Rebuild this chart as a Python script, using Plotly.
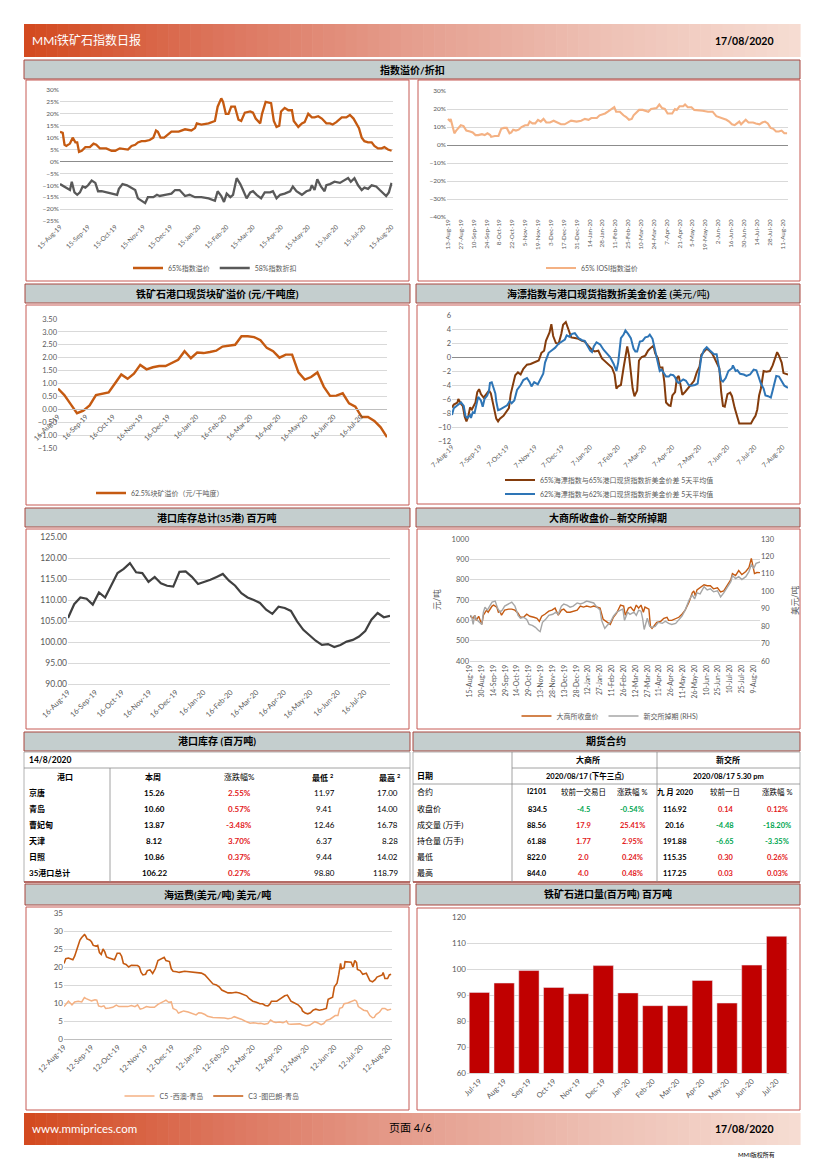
import pandas as pd
import plotly.graph_objects as go

W, H = 827, 1170
OFF = 8  # page body margin of the browser
def X(p): return (p - OFF) / W
def Y(p): return 1 - (p - OFF) / H

LAT = "Lato, Noto Sans CJK SC, sans-serif"
TICK = "#595959"
GRID = "#D9D9D9"

def on(base, days):
    b = pd.Timestamp(base)
    return [b + pd.Timedelta(days=int(d)) for d in days]

# ---------------- DATA ----------------
# Chart 1: 65% premium / 58% discount (days from 2019-08-15), %
p65_days = [0,3,5,7,11,14,17,19,21,24,28,33,37,40,44,51,57,61,66,72,75,79,83,86,90,94,99,103,106,108,111,115,118,123,131,138,145,149,151,156,164,171,174,178,180,183,186,189,193,197,200,204,210,213,216,221,223,227,233,236,239,242,244,248,252,256,258,263,267,270,274,278,281,285,289,294,298,301,305,311,316,320,324,327,330,333,336,340,344,347,351,355,358,362,366]
p65_vals = [12.5,12,7,6.5,7.5,10,8,8,4,4.5,6,6,7.5,7,5.5,5.5,4.5,4.5,5.5,5,5,6.5,7,8,8.5,8.5,9,10,13,12.5,10,10,11,12.5,12.5,13.5,13,14,16,15.5,16,17,23,26.5,25,20,20,23,23,17.5,17,20.5,21,20.5,18,16,20,25,24.5,17,14.5,15,21,22.5,21.5,21.5,17,14.5,16,16.5,20,18.5,18.5,19,18,16,16,15.5,16.5,18.5,18.5,19.5,18,16,14,10,8.5,8,8,6.5,5.5,5.5,6,5,4.5]
m58_days = [0,4,7,11,13,16,19,22,25,28,31,35,39,42,46,53,59,63,65,69,74,78,83,86,91,94,97,103,107,110,116,123,127,132,138,143,149,156,164,171,174,178,181,184,188,191,195,199,202,206,210,213,217,222,226,232,235,239,243,248,254,257,261,267,272,276,278,281,284,288,292,294,298,303,309,314,318,321,325,329,333,336,340,344,349,353,357,360,363,366]
m58_vals = [-9.5,-10.5,-11,-12,-8.5,-13,-14,-13,-10.5,-11,-10,-8,-9,-12.5,-12.5,-13,-13.5,-14,-11.5,-9.5,-10,-11,-12,-15.5,-17,-17.5,-15,-15,-14,-14.5,-14,-13.5,-12,-12,-14.5,-14,-15,-15,-15.5,-16.5,-12.5,-14.5,-17,-13.5,-15,-14,-7,-9.5,-12,-15.5,-13,-12.5,-14,-15.5,-13,-13,-12.5,-15.5,-14,-13.5,-12.5,-10.5,-12.5,-14,-12.5,-12,-10,-12,-7.5,-10.5,-12.5,-10,-9.5,-8.5,-9,-8,-7,-8.5,-7,-10,-12,-11,-11.5,-10,-10.5,-12,-13.5,-14.5,-13,-9]

# Chart 2: 65% IOSI premium (days from 2019-08-13), %
iosi_days = [0,2,3,5,7,9,12,14,17,20,24,27,30,33,37,40,43,46,47,51,55,58,61,64,67,69,71,74,77,80,84,87,89,92,95,98,101,104,107,111,115,119,123,127,130,134,140,145,149,153,156,162,165,171,174,178,181,183,187,191,194,197,200,202,205,208,212,216,218,221,227,230,233,236,239,244,247,249,252,256,258,261,265,268,273,277,283,288,292,295,299,303,306,309,312,315,317,319,322,324,327,332,335,339,342,345,348,351,354,357,360,363,366,369]
iosi_vals = [14.5,13.5,14.5,10,6.5,8,9.5,11,10.5,8,7.5,7,5.5,5.5,6,5.5,6.5,5.5,4.5,5,5,9,9.5,9.5,6.5,7,8.5,8,8.5,10,11,11,13,12,12,14,13,14.5,12.5,12.5,13.5,12.5,11.5,11.5,12.5,13.5,13,13.5,14.5,14,15,15,16.5,17.5,18.5,20,21,18.5,18.5,16.5,15.5,14,14.5,16.5,18,19.5,19.5,19,18.5,20,20.5,22.5,20.5,20,17.5,17.5,20,19.5,21.5,21.5,22.5,21,21,19.5,19,19,18.5,18.5,16,15.5,15,14,13,11.5,11,12,13,11.5,13,14,12.5,12.5,12,11.5,12.5,13,12,9.5,9,7.5,7.5,8,6.5,6.5]

# Weekly dates (Fridays) 16-Aug-19 .. 14-Aug-20
week_dates = pd.date_range("2019-08-16", "2020-08-14", freq="7D")
# Chart 3: 62.5% lump premium (元/干吨度)
lump_vals = [0.80,0.55,0.20,-0.15,-0.05,0.15,0.55,0.60,0.65,1.00,1.35,1.18,1.38,1.72,1.55,1.63,1.68,1.68,1.80,1.92,2.25,1.98,2.20,2.18,2.22,2.27,2.43,2.46,2.50,2.83,2.83,2.80,2.68,2.38,2.25,2.00,2.12,2.12,1.43,1.15,1.25,1.43,0.88,0.52,0.53,0.62,0.23,0.10,-0.30,-0.30,-0.45,-0.70,-1.08]
# Chart 5: 35-port stocks (百万吨)
stock_vals = [105.7,109.0,110.6,110.3,108.9,111.8,110.6,113.6,116.4,117.4,118.79,116.6,116.4,114.3,115.5,114.0,113.4,113.2,116.7,116.8,115.5,113.8,114.3,114.8,115.5,116.2,114.6,113.4,111.6,110.6,110.0,109.3,107.7,106.7,108.4,108.1,107.4,104.9,102.9,101.5,100.3,99.3,99.5,98.80,99.3,100.1,100.5,101.3,102.6,105.3,106.9,105.9,106.22]

# Chart 4: seaborne vs port spread, 5-day avg (days from 2019-08-07), USD/t
sp65_days = [0,2,6,7,10,12,14,16,18,20,22,24,26,28,30,32,35,38,41,43,46,49,51,53,57,60,63,65,67,70,73,76,79,83,87,90,93,96,99,102,104,108,110,112,115,118,121,123,126,129,132,136,140,144,147,151,155,158,162,166,170,173,177,180,182,184,187,190,192,194,196,198,200,202,205,207,210,214,217,220,223,225,228,230,233,235,237,240,242,244,247,249,251,253,255,258,262,265,268,271,274,276,279,282,285,288,290,293,296,298,300,302,305,308,310,313,315,318,321,324,328,331,334,336,338,340,342,345,348,352,355,358,360,362,365,367,372]
sp65_vals = [-7.2,-6.8,-6.5,-6.0,-6.7,-7.0,-8.5,-9.2,-8.5,-7.2,-7.5,-7.0,-6.5,-5.0,-4.6,-5.3,-5.8,-5.3,-4.8,-5.2,-6.8,-8.8,-9.2,-8.8,-8.4,-7.8,-7.3,-5.3,-4.3,-2.6,-2.2,-2.5,-1.7,-1.1,-1.0,-0.8,-0.6,-0.5,0.6,0.9,2.3,3.5,4.7,3.0,2.0,1.9,3.3,4.6,5.0,4.0,2.8,2.7,2.6,2.3,2.2,1.6,1.0,0.8,0.9,-0.2,-0.7,-1.1,-1.5,-2.5,-4.5,-4.2,-4.0,-1.5,0.2,1.5,0.2,-2.0,-4.5,-5.6,-4.8,-0.5,0.0,0.2,0.9,1.3,1.6,0.5,-0.2,-1.5,-1.5,-3.5,-6.5,-6.9,-7.0,-5.5,-5.0,-3.0,-2.7,-4.0,-5.4,-5.0,-4.4,-3.8,-3.4,-2.2,-1.4,0.3,0.8,1.2,0.9,0.5,0.0,-0.8,-1.6,-5.0,-7.0,-7.1,-5.3,-5.1,-5.6,-7.3,-8.2,-9.5,-9.5,-9.5,-9.5,-9.5,-8.8,-8.4,-7.5,-5.5,-4.5,-2.0,-2.1,-2.0,-1.2,0.1,0.7,0.2,-0.8,-2.3,-2.5]
sp62_days = [0,2,5,7,10,13,15,17,20,21,23,25,27,29,32,34,36,39,41,42,44,46,48,49,51,53,57,61,64,66,69,72,76,79,83,86,88,91,95,98,101,103,107,111,114,118,122,125,127,130,133,136,140,144,147,150,153,155,157,160,164,168,171,175,179,182,184,187,190,192,195,198,201,203,205,208,211,214,217,219,222,225,227,230,232,234,237,240,242,245,247,249,251,254,256,259,262,265,269,272,274,276,279,282,285,288,290,293,296,298,300,303,306,310,311,314,316,319,323,326,330,334,337,339,342,345,347,350,353,355,358,359,362,365,368,372]
sp62_vals = [-8.3,-7.3,-7.0,-6.8,-6.5,-7.0,-8.5,-8.7,-8.3,-8.7,-7.9,-8.0,-7.0,-5.7,-6.2,-7.1,-6.0,-5.5,-4.8,-3.7,-3.6,-4.6,-5.2,-6.3,-7.6,-7.5,-7.2,-6.9,-6.3,-6.6,-6.2,-4.7,-4.0,-3.3,-3.0,-3.6,-4.2,-3.6,-3.9,-3.2,-2.4,-0.8,0.6,1.0,1.3,1.9,2.2,2.5,3.1,2.9,3.3,3.4,2.7,2.4,2.3,1.5,0.9,0.7,1.5,2.1,1.8,1.0,0.6,0.0,-1.0,-2.0,-0.8,2.7,3.2,3.8,3.3,2.7,1.2,0.8,0.8,2.2,2.3,2.8,2.9,3.2,2.6,0.8,0.1,-2.0,-1.8,-2.2,-2.8,-2.8,-2.5,-2.6,-2.9,-3.5,-3.7,-3.4,-3.2,-3.4,-4.0,-4.1,-4.0,-3.8,-2.0,0.0,1.0,1.4,1.0,0.6,0.4,0.4,-1.5,-3.3,-3.5,-3.0,-2.0,-1.6,-1.2,-2.0,-1.9,-2.4,-2.5,-2.7,-2.5,-1.8,-1.9,-2.6,-3.8,-4.5,-5.5,-5.6,-5.8,-4.8,-3.5,-2.7,-2.8,-3.5,-4.1,-4.4]

# Chart 6: DCE close (元/吨) and SGX swap (USD/t, RHS), days from 2019-08-15
dce_days = [0,2,4,6,8,11,13,15,17,19,21,23,25,28,30,32,34,36,38,40,42,44,49,53,57,61,64,68,72,76,81,85,88,91,95,100,104,108,112,116,119,123,127,131,136,140,144,148,153,157,161,165,169,174,178,182,186,191,195,197,201,204,208,211,214,217,220,222,227,229,231,234,237,242,246,250,252,256,261,265,269,273,278,282,284,286,288,292,297,301,305,309,314,318,322,326,331,333,337,341,345,350,354,357,359,361,364,369]
dce_vals = [620,615,610,625,600,620,595,580,625,640,650,640,655,670,675,670,665,640,645,625,640,650,655,655,650,635,615,615,630,620,615,610,595,620,630,645,650,660,625,650,655,640,640,645,650,670,665,670,665,670,665,660,605,590,580,615,635,675,670,625,660,665,645,675,660,675,640,665,655,570,560,575,590,595,610,615,600,600,610,615,630,650,690,735,745,720,750,760,775,770,770,755,760,740,745,770,800,830,820,845,825,840,860,905,870,830,835,834.5]
sgx_days = [0,2,4,6,8,13,15,17,19,22,25,28,32,35,38,41,44,49,53,57,61,64,68,72,75,79,83,87,89,92,96,100,105,109,112,116,119,123,127,131,136,140,144,148,153,157,161,165,167,171,174,178,182,186,191,194,196,200,203,208,211,214,217,219,221,225,228,231,235,239,244,248,252,256,261,265,269,273,278,282,285,288,292,297,301,305,309,314,318,322,326,331,333,337,341,345,350,354,357,360,363,367,369]
sgx_vals = [86.2,85.7,81.0,86.2,83.9,82.2,81.0,88.0,90.9,89.2,91.5,93.8,94.4,90.3,88.0,89.2,91.5,92.7,93.8,91.5,86.2,84.5,85.1,83.9,81.0,80.4,79.3,77.5,76.9,82.2,83.9,86.2,86.8,88.0,86.8,91.5,92.7,92.1,90.9,91.5,93.3,92.7,93.3,94.4,93.8,93.3,90.9,89.2,83.3,78.7,80.4,82.2,85.7,88.0,89.2,89.8,83.3,88.0,86.8,88.0,86.2,89.2,88.6,84.5,78.1,84.5,79.9,79.3,79.9,82.2,81.6,82.8,81.6,81.0,81.6,83.9,85.7,89.2,95.0,97.9,95.6,99.1,98.5,102.6,100.8,101.4,99.7,100.3,96.8,99.1,102.0,105.5,109.0,107.3,108.4,106.7,108.4,111.3,115.4,113.1,116.0,116.6,116.92]

# Chart 7: freight (USD/t), days from 2019-08-12
c3_days = [0,2,5,8,10,12,14,16,18,20,23,24,26,29,31,33,36,38,40,42,44,46,48,51,55,57,60,63,65,67,70,73,76,80,83,85,87,89,92,94,97,100,103,106,109,113,115,119,121,123,127,130,136,144,151,155,159,162,164,168,172,175,178,181,185,189,194,198,202,206,209,213,217,221,224,227,230,232,234,238,240,243,246,249,252,254,256,260,264,268,269,272,275,278,281,284,288,292,296,298,301,303,305,308,310,312,313,316,317,320,324,326,328,330,331,334,337,341,345,348,351,353,356,359,360,362,365,367,369]
c3_vals = [21.0,22.3,22.5,22.2,22.0,23.0,24.5,26.0,27.5,28.2,29.0,28.8,27.8,27.5,27.0,26.0,25.8,26.0,24.0,23.5,25.0,24.2,22.8,22.5,22.2,22.0,23.8,23.8,23.0,21.0,20.7,20.0,20.5,20.5,20.4,20.0,18.5,17.8,18.0,19.0,19.2,18.2,19.5,21.8,22.2,22.7,21.8,21.5,19.5,18.8,18.7,18.5,18.8,18.6,18.3,18.3,17.8,17.0,16.2,15.3,15.0,14.5,13.6,13.2,12.8,12.8,13.0,12.8,12.5,12.0,11.2,10.5,10.2,9.8,9.8,9.3,9.2,9.6,10.5,10.6,10.5,11.0,11.5,12.0,12.2,11.5,10.5,10.0,9.5,8.5,7.8,7.2,7.0,7.3,8.0,8.3,8.0,8.2,8.5,11.0,11.5,11.6,14.5,15.5,18.0,21.0,19.5,19.8,21.5,21.5,21.3,20.0,21.8,21.2,19.3,19.0,18.0,18.3,16.2,15.9,16.5,17.2,17.4,17.8,18.5,16.8,16.8,17.8,18.0]
c5_days = [0,3,5,7,9,12,16,20,23,25,28,31,35,37,39,42,45,47,51,55,59,62,67,72,76,80,83,86,89,93,97,102,106,110,113,115,118,121,123,127,129,132,135,140,144,147,149,152,155,159,162,168,174,181,185,189,192,196,200,204,207,210,214,219,222,226,230,233,236,239,243,247,251,253,256,260,266,269,273,277,280,283,286,290,293,296,300,303,306,309,311,314,316,320,324,328,330,332,335,338,342,345,348,350,352,356,359,362,365,369]
c5_vals = [9.0,10.0,10.5,10.0,9.5,10.3,10.5,10.3,11.5,11.2,11.0,10.6,10.9,10.8,9.2,9.0,9.2,8.5,8.6,8.8,9.4,9.0,9.0,9.0,9.3,9.0,9.5,8.3,8.5,9.0,8.8,8.8,9.6,10.0,10.5,10.8,10.2,10.3,8.5,8.0,7.2,7.5,7.8,7.5,7.2,7.0,6.7,7.3,7.2,6.8,6.3,6.0,6.0,5.8,5.6,5.8,6.2,5.9,5.5,5.0,4.8,4.4,4.5,4.3,4.4,4.1,4.3,5.3,4.8,4.6,4.7,4.5,5.0,4.2,4.1,4.1,4.2,3.9,3.7,3.8,4.2,4.8,4.5,4.0,4.3,5.2,5.5,6.0,6.5,6.5,8.5,8.8,9.8,10.0,10.3,10.8,10.5,9.0,8.5,8.0,7.8,6.5,5.9,6.0,6.8,7.5,8.5,8.5,8.0,8.3]

# Chart 8: monthly imports (百万吨)
imp_months = ["Jul-19","Aug-19","Sep-19","Oct-19","Nov-19","Dec-19","Jan-20","Feb-20","Mar-20","Apr-20","May-20","Jun-20","Jul-20"]
imp_vals = [91.0,94.6,99.4,92.9,90.5,101.3,90.8,85.9,85.9,95.6,86.9,101.5,112.6]

# Tables
port_names = ["京唐","青岛","曹妃甸","天津","日照","35港口总计"]
port_week = ["15.26","10.60","13.87","8.12","10.86","106.22"]
port_chg = ["2.55%","0.57%","-3.48%","3.70%","0.37%","0.27%"]
port_low = ["11.97","9.41","12.46","6.37","9.44","98.80"]
port_high = ["17.00","14.00","16.78","8.28","14.02","118.79"]

fut_rows = ["收盘价","成交量 (万手)","持仓量 (万手)","最低","最高"]
dce_val = ["834.5","88.56","61.88","822.0","844.0"]
dce_chg = ["-4.5","17.9","1.77","2.0","4.0"]
dce_pct = ["-0.54%","25.41%","2.95%","0.24%","0.48%"]
sgx_val = ["116.92","20.16","191.88","115.35","117.25"]
sgx_chg = ["0.14","-4.48","-6.65","0.30","0.03"]
sgx_pct = ["0.12%","-18.20%","-3.35%","0.26%","0.03%"]

for a, b in [(p65_days,p65_vals),(m58_days,m58_vals),(iosi_days,iosi_vals),(sp65_days,sp65_vals),
             (sp62_days,sp62_vals),(dce_days,dce_vals),(sgx_days,sgx_vals),(c3_days,c3_vals),(c5_days,c5_vals),
             (week_dates,lump_vals),(week_dates,stock_vals)]:
    assert len(a) == len(b), (len(a), len(b))

# ---------------- FIGURE ----------------
ORANGE = "#C55A11"
LIGHT = "#F4B183"
BROWN = "#843C0C"
BLUE = "#2E75B6"
DARK = "#404040"
RED = "#E3201B"
GREEN = "#00A650"

fig = go.Figure()

def line(x, y, xa, ya, color, width, name=None, legend=None, show=False):
    fig.add_trace(go.Scatter(x=x, y=y, mode="lines", xaxis=xa, yaxis=ya, name=name,
                             line=dict(color=color, width=width), showlegend=show,
                             legend=legend, hoverinfo="skip"))

line(on("2019-08-15", p65_days), p65_vals, "x", "y", ORANGE, 2.3, "65%指数溢价", "legend", True)
line(on("2019-08-15", m58_days), m58_vals, "x", "y", "#595959", 2.3, "58%指数折扣", "legend", True)
line(on("2019-08-13", iosi_days), iosi_vals, "x2", "y2", LIGHT, 2.1, "65% IOSI指数溢价", "legend2", True)
line(week_dates, lump_vals, "x3", "y3", ORANGE, 2.4, "62.5%块矿溢价（元/干吨度）", "legend3", True)
line(on("2019-08-07", sp65_days), sp65_vals, "x4", "y4", BROWN, 2.0, "65%海漂指数与65%港口现货指数折美金价差 5天平均值", "legend4", True)
line(on("2019-08-07", sp62_days), sp62_vals, "x4", "y4", BLUE, 2.0, "62%海漂指数与62%港口现货指数折美金价差 5天平均值", "legend7", True)
line(week_dates, stock_vals, "x5", "y5", DARK, 2.2)
line(on("2019-08-15", dce_days), dce_vals, "x6", "y6", ORANGE, 1.4, "大商所收盘价", "legend5", True)
line(on("2019-08-15", sgx_days), sgx_vals, "x6", "y7", "#A6A6A6", 1.4, "新交所掉期 (RHS)", "legend5", True)
line(on("2019-08-12", c5_days), c5_vals, "x8", "y8", LIGHT, 1.5, "C5 -西澳-青岛", "legend6", True)
line(on("2019-08-12", c3_days), c3_vals, "x8", "y8", ORANGE, 1.6, "C3 -图巴朗-青岛", "legend6", True)
fig.add_trace(go.Bar(x=imp_months, y=imp_vals, xaxis="x9", yaxis="y9", marker=dict(color="#C00000"),
                     showlegend=False, hoverinfo="skip"))

def tf(size):
    return dict(family=LAT, size=size, color=TICK)

def xdate(x0, x1, rng, tick0, dtick, fmt, angle, size=6.5, **kw):
    d = dict(domain=[X(x0), X(x1)], type="date", range=rng, tick0=tick0, dtick=dtick,
             tickformat=fmt, tickangle=angle, tickfont=tf(size), showgrid=False,
             zeroline=False, showline=False, ticks="", fixedrange=True, automargin=False)
    d.update(kw)
    return d

def ylin(y0, y1, rng, dtick, size=6.5, **kw):
    d = dict(domain=[Y(y1), Y(y0)], range=rng, dtick=dtick, tickfont=tf(size),
             showgrid=True, gridcolor=GRID, gridwidth=0.8, zeroline=False,
             showline=False, ticks="", fixedrange=True, automargin=False)
    d.update(kw)
    return d

DAY = 86400000
lay = dict(
    xaxis=xdate(60, 392.5, ["2019-08-15", "2020-08-16"], "2019-08-15", "M1", "%d-%b-%y", -45, 6.5, anchor="y"),
    yaxis=ylin(90, 221, [-25, 30], 5, 6.5, ticksuffix="%", anchor="x", zeroline=True,
               zerolinecolor="#8C8C8C", zerolinewidth=1),
    xaxis2=xdate(447, 788, ["2019-08-12", "2020-08-17"], "2019-08-13", 14 * DAY, "%-d-%b-%y", -90, 6.3, anchor="y2"),
    yaxis2=ylin(91, 217, [-40, 30], 10, 6.5, ticksuffix="%", anchor="x2", zeroline=True,
                zerolinecolor="#8C8C8C", zerolinewidth=1),
    xaxis3=xdate(58, 387, ["2019-08-16", "2020-08-14"], "2019-08-16", "M1", "%d-%b-%y", -45, 7,
                 anchor="free", position=Y(409), showline=True, linecolor="#BFBFBF", linewidth=1),
    yaxis3=ylin(319, 448, [-1.5, 3.5], 0.5, 7.5, tickformat=".2f", anchor="x3"),
    xaxis4=xdate(452, 788, ["2019-08-07", "2020-08-13"], "2019-08-07", "M1", "%-d-%b-%y", -45, 6.8, anchor="y4"),
    yaxis4=ylin(315, 441, [-12, 6], 2, 7.5, anchor="x4", zeroline=True,
                zerolinecolor="#8C8C8C", zerolinewidth=1),
    xaxis5=xdate(68, 390, ["2019-08-16", "2020-08-14"], "2019-08-16", "M1", "%d-%b-%y", -45, 7.5, anchor="y5",
                 showline=True, linecolor="#D9D9D9"),
    yaxis5=ylin(537, 684, [90, 125], 5, 8.5, tickformat=".2f", anchor="x5"),
    xaxis6=xdate(470, 760, ["2019-08-15", "2020-08-17"], "2019-08-15", 15 * DAY, "%-d-%b-%y", -90, 6.8, anchor="y6",
                 showline=True, linecolor="#D9D9D9"),
    yaxis6=ylin(539, 661, [400, 1000], 100, 7.5, anchor="x6"),
    yaxis7=dict(overlaying="y6", side="right", anchor="x6", range=[60, 130], dtick=10,
                tickfont=tf(7.5), showgrid=False, zeroline=False, fixedrange=True, automargin=False),
    xaxis8=xdate(64, 392, ["2019-08-12", "2020-08-16"], "2019-08-12", "M1", "%d-%b-%y", -45, 7.5, anchor="y8",
                 showline=True, linecolor="#BFBFBF"),
    yaxis8=ylin(913, 1039, [0, 35], 5, 8, anchor="x8"),
    xaxis9=dict(domain=[X(467), X(789)], anchor="y9", type="category", tickangle=-45,
                tickfont=tf(7.5), showgrid=False, fixedrange=True, showline=True, linecolor="#D9D9D9",
                automargin=False),
    yaxis9=ylin(917, 1073, [60, 120], 10, 8, anchor="x9"),
)

def leg(x, y, orient="h", xanchor="center"):
    return dict(x=X(x), y=Y(y), xref="paper", yref="paper", xanchor=xanchor, yanchor="middle",
                orientation=orient, font=dict(family=LAT, size=7, color="#595959"),
                bgcolor="rgba(0,0,0,0)", itemwidth=30, tracegroupgap=0, traceorder="normal")

lay.update(
    legend=leg(215, 268), legend2=leg(592, 268), legend3=leg(160, 493),
    legend4=leg(500, 480, "v", "left"), legend7=leg(500, 494, "v", "left"),
    legend5=leg(610, 716), legend6=leg(212, 1096),
)

# ---------------- SHAPES ----------------
shapes = []
def rect(x0, y0, x1, y1, fill=None, line=None, lw=1, layer="below"):
    shapes.append(dict(type="rect", xref="paper", yref="paper", x0=X(x0), x1=X(x1), y0=Y(y1), y1=Y(y0),
                       fillcolor=fill or "rgba(0,0,0,0)",
                       line=dict(color=line or "rgba(0,0,0,0)", width=lw if line else 0), layer=layer))
def seg(x0, y0, x1, y1, color="#8C8C8C", lw=0.8):
    shapes.append(dict(type="line", xref="paper", yref="paper", x0=X(x0), x1=X(x1), y0=Y(y0), y1=Y(y1),
                       line=dict(color=color, width=lw), layer="above"))

stops = [(0.0, (211, 73, 30)), (0.25, (220, 116, 92)), (0.5, (229, 158, 142)), (0.75, (238, 193, 181)), (1.0, (246, 221, 211))]
def grad(t):
    for (t0, c0), (t1, c1) in zip(stops[:-1], stops[1:]):
        if t <= t1:
            f = (t - t0) / (t1 - t0)
            return "rgb(%d,%d,%d)" % tuple(round(a + (b - a) * f) for a, b in zip(c0, c1))
    return "rgb(%d,%d,%d)" % stops[-1][1]

NS = 70
sw = (800 - 24) / NS
for yy0, yy1 in [(24, 57), (1113, 1145)]:
    for i in range(NS):
        rect(24 + i * sw, yy0, 24 + (i + 1) * sw + 0.6, yy1, fill=grad((i + 0.5) / NS))

BAR = "#C4CECE"
BARL = "#A9473F"
PAN = "#C65B55"
# title bars
rect(24, 60, 800, 79, BAR, BARL, 1)
for (a, b) in [(25, 410), (416, 800)]:
    rect(a, 284, b, 303, BAR, BARL, 1)
    rect(a, 508, b, 527, BAR, BARL, 1)
    rect(a, 884, b, 905, BAR, BARL, 1)
rect(24, 732, 410, 751, BAR, BARL, 1)
rect(413, 732, 800, 751, BAR, BARL, 1)
# panels
rect(26, 80, 409, 281, "white", PAN, 1)
rect(418, 80, 800, 281, "white", PAN, 1)
rect(26, 305, 409, 505, "white", PAN, 1)
rect(417, 305, 800, 504, "white", PAN, 1)
rect(26, 529, 409, 729, "white", PAN, 1)
rect(417, 529, 800, 729, "white", PAN, 1)
rect(26, 907, 409, 1110, "white", PAN, 1)
rect(417, 908, 800, 1110, "white", PAN, 1)
# tables
rect(24, 752, 410, 882, None, "#9E9E9E", 0.8)
rect(413, 752, 800, 882, None, "#9E9E9E", 0.8)
seg(24, 882, 410, 882, BARL, 1.5)
seg(413, 882, 800, 882, BARL, 1.5)
seg(24, 768, 410, 768)
seg(110, 768, 110, 882)
seg(512, 752, 512, 882)
seg(657, 752, 657, 882)
seg(512, 768, 800, 768)
seg(413, 784, 800, 784)
lay["shapes"] = shapes

# ---------------- TEXT ----------------
ann = []
def txt(x, y, s, size=8, color="#000000", anchor="center", bold=False, family=LAT, angle=0):
    ann.append(dict(x=X(x), y=Y(y), xref="paper", yref="paper", text=("<b>%s</b>" % s) if bold else s,
                    showarrow=False, xanchor=anchor, yanchor="middle", textangle=angle,
                    font=dict(size=size, color=color, family=family)))

txt(30, 40, "MMi铁矿石指数日报", 12, "white", "left")
txt(776, 41, "17/08/2020", 10.5, "#000000", "right", True)
txt(30, 1128, "www.mmiprices.com", 11.5, "white", "left")
txt(410, 1127, "页面 4/6", 11, "#000000", "center")
txt(776, 1129, "17/08/2020", 10.5, "#000000", "right", True)
txt(777, 1155, "MMI版权所有", 6, "#000000", "right")

TS = 10
txt(412, 70, "指数溢价/折扣", TS, bold=True)
txt(217, 294, "铁矿石港口现货块矿溢价 (元/干吨度)", TS, bold=True)
txt(608, 294, "<b>海漂指数与港口现货指数折美金价差 (</b>美元/吨<b>)</b>", TS)
txt(217, 518, "港口库存总计(35港) 百万吨", TS, bold=True)
txt(608, 518, "大商所收盘价—新交所掉期", TS, bold=True)
txt(217, 741, "港口库存 (百万吨)", TS, bold=True)
txt(606, 741, "期货合约", TS, bold=True)
txt(217, 895, "海运费(美元/吨) 美元/吨", TS, bold=True)
txt(608, 894, "铁矿石进口量(百万吨) 百万吨", TS, bold=True)

txt(437, 600, "元/吨", 8.5, TICK, angle=-90)
txt(795, 600, "美元/吨", 8.5, TICK, angle=-90)

# left table
FS = 8
txt(27, 760, "14/8/2020", 8.5, anchor="left", bold=True)
txt(65, 777, "港口", FS, bold=True)
txt(153, 777, "本周", FS, bold=True)
txt(239, 777, "涨跌幅%", FS)
txt(322, 777, "最低 <sup>2</sup>", FS, bold=True)
txt(389, 777, "最高 <sup>2</sup>", FS, bold=True)
row_y = [793, 809, 825, 841, 857, 873]
for i, yy in enumerate(row_y):
    txt(27, yy, port_names[i], FS, anchor="left", bold=True)
    txt(154, yy, port_week[i], FS, bold=True)
    txt(239, yy, port_chg[i], FS, RED, bold=True)
    txt(324, yy, port_low[i], FS)
    txt(400, yy, port_high[i], FS, anchor="right")

# right table
txt(588, 760, "大商所", FS, bold=True)
txt(728, 760, "新交所", FS, bold=True)
txt(415, 776, "日期", FS, anchor="left", bold=True)
txt(585, 776, "2020/08/17 (下午三点)", 7.5, bold=True)
txt(728, 776, "2020/08/17 5.30 pm", 7.5, bold=True)
txt(415, 792, "合约", FS, anchor="left")
txt(537, 792, "I2101", 7.5, bold=True)
txt(583, 792, "较前一交易日", 7.5)
txt(632, 792, "涨跌幅 %", 7.5)
txt(675, 792, "九 月 2020", 7.5, bold=True)
txt(725, 792, "较前一日", 7.5)
txt(777, 792, "涨跌幅 %", 7.5)

def col(v):
    return GREEN if v.startswith("-") else RED
fut_y = [809, 825, 841, 857, 873]
for i, yy in enumerate(fut_y):
    txt(415, yy, fut_rows[i], FS, anchor="left")
    txt(537, yy, dce_val[i], 7.5, bold=True)
    txt(583, yy, dce_chg[i], 7.5, col(dce_chg[i]), bold=True)
    txt(632, yy, dce_pct[i], 7.5, col(dce_pct[i]), bold=True)
    txt(675, yy, sgx_val[i], 7.5, bold=True)
    txt(725, yy, sgx_chg[i], 7.5, col(sgx_chg[i]), bold=True)
    txt(777, yy, sgx_pct[i], 7.5, col(sgx_pct[i]), bold=True)

lay["annotations"] = ann

fig.update_layout(
    width=W, height=H, margin=dict(l=0, r=0, t=0, b=0, pad=0, autoexpand=False),
    paper_bgcolor="white", plot_bgcolor="rgba(0,0,0,0)",
    font=dict(family=LAT, size=8, color="#000000"),
    bargap=0.18, hovermode=False, **lay
)
fig.write_html("out.html", config={"displayModeBar": False})
